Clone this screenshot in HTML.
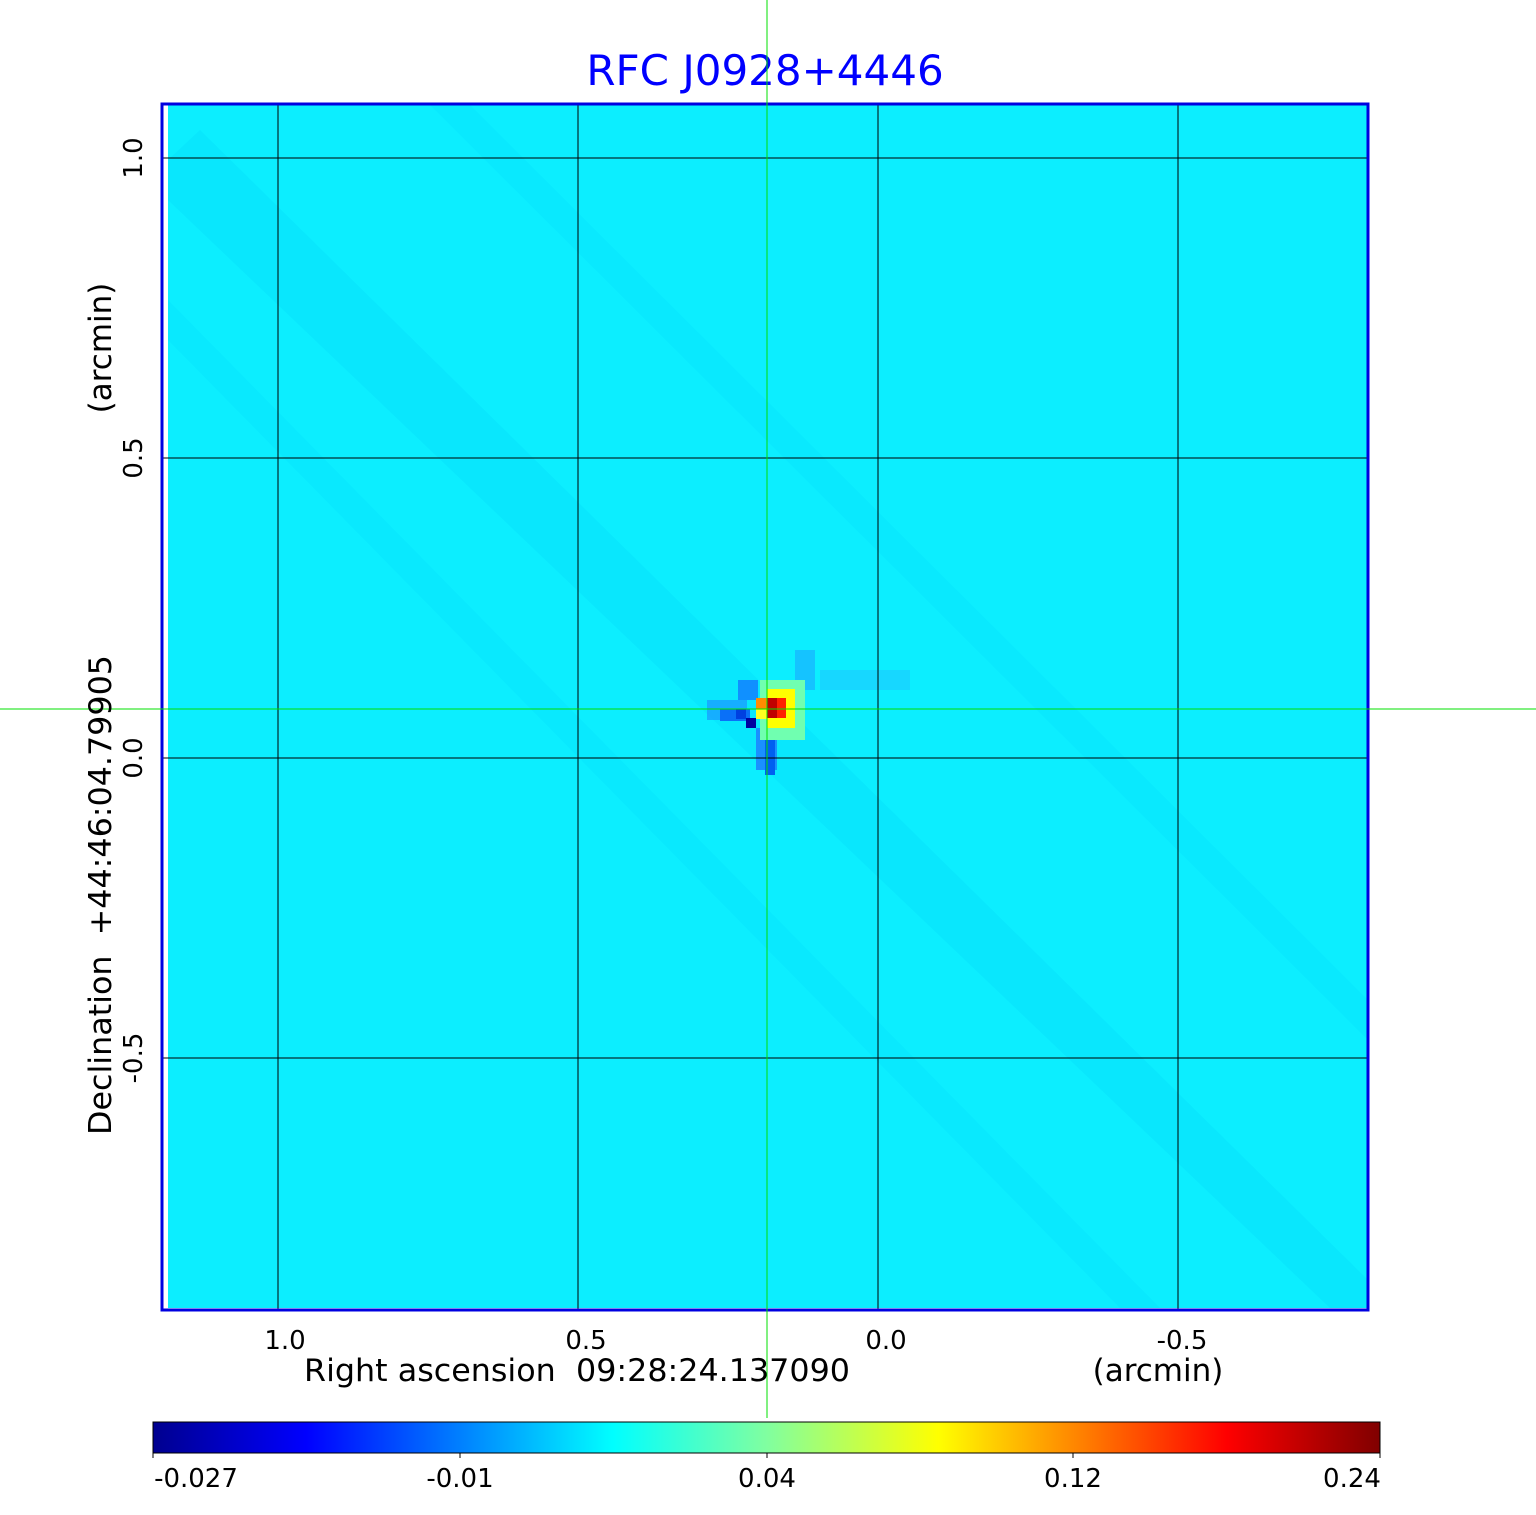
<!DOCTYPE html>
<html><head><meta charset="utf-8"><style>
body{margin:0;background:#fff;width:1536px;height:1511px;overflow:hidden;font-family:"DejaVu Sans","Liberation Sans",sans-serif;}
text{white-space:pre;}
</style></head><body>
<svg width="1536" height="1511" xmlns="http://www.w3.org/2000/svg" font-family="DejaVu Sans, Liberation Sans, sans-serif" xml:space="preserve">
<defs>
<linearGradient id="jet" x1="0" x2="1" y1="0" y2="0">
<stop offset="0" stop-color="#00008f"/>
<stop offset="0.125" stop-color="#0000ff"/>
<stop offset="0.375" stop-color="#00ffff"/>
<stop offset="0.5" stop-color="#80ffa0"/>
<stop offset="0.64" stop-color="#ffff00"/>
<stop offset="0.875" stop-color="#ff0000"/>
<stop offset="1" stop-color="#800000"/>
</linearGradient>
</defs>
<text x="765" y="85" font-size="42" fill="#0000ff" text-anchor="middle">RFC J0928+4446</text>
<rect x="168" y="105" width="1200" height="1203" fill="#0ceeff"/>
<polygon points="168,160 200,130 1368,1280 1368,1308 1330,1308 168,200" fill="#00d4f6" opacity="0.25"/>
<polygon points="168,300 168,340 1120,1308 1160,1308" fill="#00d8f8" opacity="0.2"/>
<polygon points="430,105 470,105 1368,1000 1368,1040" fill="#00d8f8" opacity="0.2"/>
<rect x="707" y="700" width="40" height="20" fill="#1aa0ff" opacity="0.8"/>
<rect x="720" y="709" width="30" height="12" fill="#0a70f8"/>
<rect x="795" y="650" width="20" height="40" fill="#18b8ff" opacity="0.8"/>
<rect x="820" y="670" width="90" height="20" fill="#20c8ff" opacity="0.6"/>
<rect x="738" y="680" width="20" height="20" fill="#1090ff"/>
<rect x="756" y="728" width="21" height="42" fill="#1a90ff"/>
<rect x="765" y="740" width="10" height="35" fill="#0060f0"/>
<rect x="760" y="680" width="45" height="60" fill="#70ffb0"/>
<rect x="767" y="689" width="28" height="39" fill="#ffff00"/>
<rect x="756" y="698" width="11" height="11" fill="#ff8c00"/>
<rect x="756" y="709" width="11" height="10" fill="#ffff20"/>
<rect x="767" y="698" width="10" height="20" fill="#c00000"/>
<rect x="777" y="698" width="9" height="20" fill="#ff2000"/>
<rect x="746" y="718" width="10" height="10" fill="#0000a0"/>
<rect x="736" y="709" width="10" height="10" fill="#0040e0"/>
<g stroke="#000" stroke-width="1">
<line x1="278" y1="104" x2="278" y2="1310"/><line x1="578" y1="104" x2="578" y2="1310"/>
<line x1="878" y1="104" x2="878" y2="1310"/><line x1="1178" y1="104" x2="1178" y2="1310"/>
<line x1="162" y1="158" x2="1368" y2="158"/><line x1="162" y1="458" x2="1368" y2="458"/>
<line x1="162" y1="758" x2="1368" y2="758"/><line x1="162" y1="1058" x2="1368" y2="1058"/>
</g>
<rect x="162" y="104" width="1206" height="1206" fill="none" stroke="#0000e0" stroke-width="3"/>
<line x1="767" y1="0" x2="767" y2="1418" stroke="#00e000" stroke-width="1"/>
<line x1="0" y1="709" x2="1536" y2="709" stroke="#00e000" stroke-width="1"/>
<g font-size="26" fill="#000" text-anchor="middle">
<text x="285" y="1349">1.0</text><text x="586" y="1349">0.5</text>
<text x="886" y="1349">0.0</text><text x="1182" y="1349">-0.5</text>
<text transform="translate(142,158) rotate(-90)">1.0</text>
<text transform="translate(142,458) rotate(-90)">0.5</text>
<text transform="translate(142,758) rotate(-90)">0.0</text>
<text transform="translate(142,1058) rotate(-90)">-0.5</text>
</g>
<text x="304" y="1381" font-size="31" fill="#000" textLength="546" lengthAdjust="spacingAndGlyphs">Right ascension  09:28:24.137090</text>
<text x="1158" y="1381" font-size="31" fill="#000" text-anchor="middle">(arcmin)</text>
<text transform="translate(111,1135) rotate(-90)" font-size="31" fill="#000" textLength="480" lengthAdjust="spacingAndGlyphs">Declination  +44:46:04.79905</text>
<text transform="translate(111,348) rotate(-90)" font-size="31" fill="#000" text-anchor="middle">(arcmin)</text>
<rect x="153" y="1422" width="1227" height="31" fill="url(#jet)" stroke="#000" stroke-width="1"/>
<g stroke="#000"><line x1="153" y1="1453" x2="153" y2="1458"/><line x1="460" y1="1453" x2="460" y2="1458"/><line x1="767" y1="1453" x2="767" y2="1458"/><line x1="1073" y1="1453" x2="1073" y2="1458"/><line x1="1380" y1="1453" x2="1380" y2="1458"/></g>
<g font-size="26" fill="#000" text-anchor="middle">
<text x="196" y="1487">-0.027</text><text x="460" y="1487">-0.01</text>
<text x="767" y="1487">0.04</text><text x="1073" y="1487">0.12</text><text x="1352" y="1487">0.24</text>
</g>
</svg>
</body></html>
